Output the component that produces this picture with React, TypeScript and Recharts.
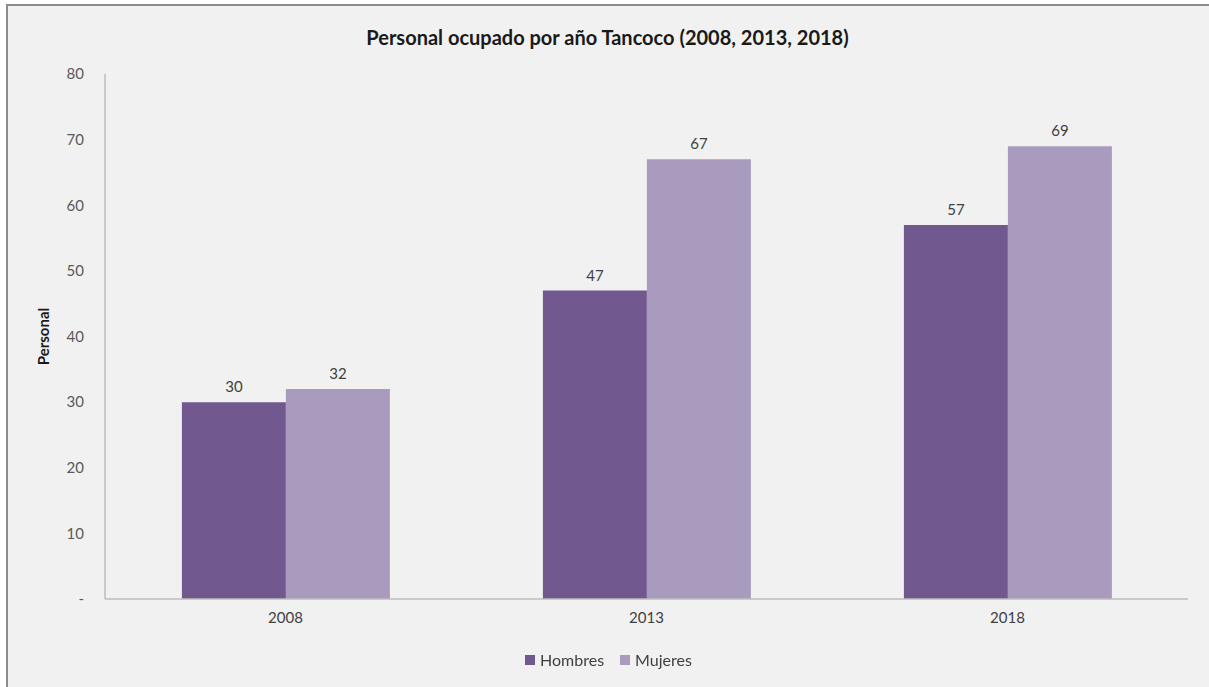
import { BarChart, Bar, XAxis, YAxis, Legend, LabelList } from "recharts";

const years = ["2008", "2013", "2018"];
const hombres = [30, 47, 57];
const mujeres = [32, 67, 69];
const yTicks = [0, 10, 20, 30, 40, 50, 60, 70, 80];

const COLOR_H = "#71588f";
const COLOR_M = "#a99bbe";
const FONT = "Lato, 'Open Sans', sans-serif";

const rows = years.map((year, i) => ({
  year,
  Hombres: hombres[i],
  Mujeres: mujeres[i],
}));

function formatTick(v: number): string {
  return v === 0 ? "-" : `${v}`;
}

// eslint-disable-next-line @typescript-eslint/no-explicit-any
function LegendContent({ payload }: any) {
  return (
    <div style={{ display: "flex", justifyContent: "center", gap: 16, fontFamily: FONT, fontSize: 16, color: "#404040" }}>
      {(payload ?? []).map((p: { value: string; color: string }) => (
        <span key={p.value} style={{ display: "flex", alignItems: "center", gap: 5 }}>
          <span style={{ display: "inline-block", width: 10, height: 10, background: p.color }} />
          {p.value}
        </span>
      ))}
    </div>
  );
}

export default function App() {
  return (
    <div style={{ position: "fixed", left: 0, top: 0, width: 1209, height: 687, background: "#fff" }}>
      <div
        style={{
          position: "absolute",
          left: 6,
          top: 4,
          width: 1210,
          height: 690,
          border: "2px solid #8c8c8c",
          background: "#f1f1f1",
          boxSizing: "border-box",
        }}
      />
      <div
        style={{
          position: "absolute",
          left: 0,
          top: 25,
          width: 1215,
          textAlign: "center",
          fontFamily: FONT,
          fontWeight: 700,
          fontSize: 20,
          color: "#1a1a1a",
        }}
      >
        Personal ocupado por año Tancoco (2008, 2013, 2018)
      </div>
      <div style={{ position: "absolute", left: 0, top: 0 }}>
        <BarChart
          width={1209}
          height={687}
          data={rows}
          margin={{ top: 74, right: 21, left: 0, bottom: 58 }}
          barCategoryGap="21.3%"
          barGap={0}
        >
          <XAxis
            dataKey="year"
            height={30}
            axisLine={{ stroke: "#bdbdbd", strokeWidth: 1.5 }}
            tickLine={false}
            tickSize={0}
            tickMargin={13}
            tick={{ fontSize: 15, fill: "#404040", fontFamily: FONT }}
          />
          <YAxis
            width={105}
            domain={[0, 80]}
            ticks={yTicks}
            interval={0}
            tickFormatter={formatTick}
            axisLine={{ stroke: "#bdbdbd", strokeWidth: 1.5 }}
            tickLine={false}
            tickSize={0}
            tickMargin={21}
            tick={{ fontSize: 15, fill: "#595959", fontFamily: FONT }}
            label={{
              value: "Personal",
              angle: -90,
              position: "center",
              dx: -9,
              style: { fontSize: 15, fontWeight: 700, fill: "#1a1a1a", fontFamily: FONT },
            }}
          />
          <Legend
            verticalAlign="middle"
            align="center"
            content={<LegendContent />}
            wrapperStyle={{ top: 650, left: 0, width: 1217 }}
          />
          <Bar dataKey="Hombres" fill={COLOR_H} isAnimationActive={false}>
            <LabelList dataKey="Hombres" position="top" offset={10} style={{ fontSize: 15, fill: "#404040", fontFamily: FONT }} />
          </Bar>
          <Bar dataKey="Mujeres" fill={COLOR_M} isAnimationActive={false}>
            <LabelList dataKey="Mujeres" position="top" offset={10} style={{ fontSize: 15, fill: "#404040", fontFamily: FONT }} />
          </Bar>
        </BarChart>
      </div>
    </div>
  );
}
